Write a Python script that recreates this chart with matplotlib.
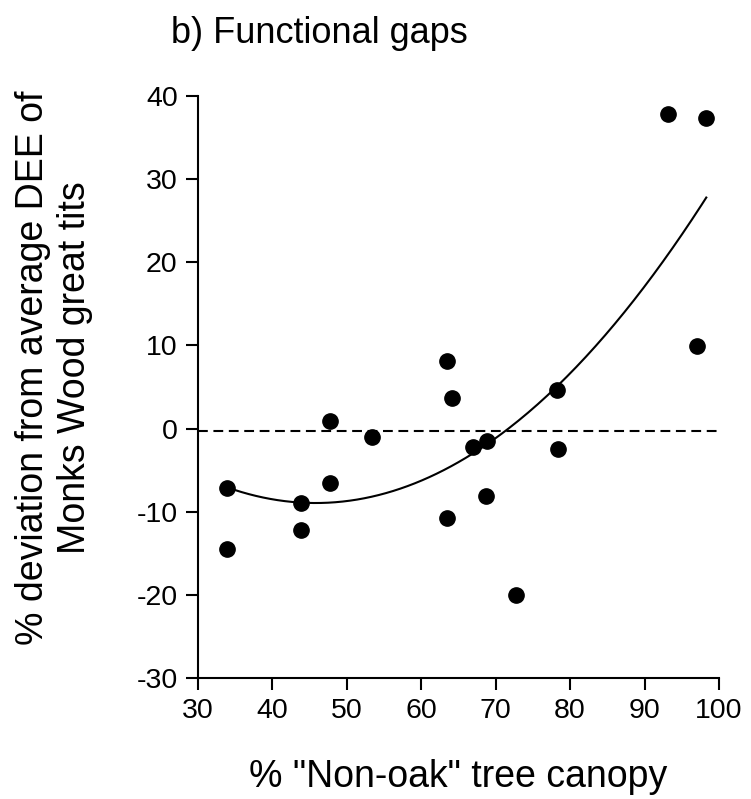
import numpy as np
import matplotlib
matplotlib.use("Agg")
import matplotlib.pyplot as plt

# ── Data ───────────────────────────────────────────────────────────────────
canopy = [33.9, 33.9, 43.8, 43.8, 47.8, 47.8, 53.4, 63.5, 64.1, 63.5,
          67.0, 68.8, 68.7, 72.8, 78.2, 78.4, 93.2, 98.3, 97.0]
deviation = [-7.1, -14.5, -8.9, -12.2, 0.9, -6.5, -1.0, 8.1, 3.7, -10.8,
             -2.2, -1.5, -8.1, -20.0, 4.6, -2.4, 37.8, 37.3, 9.9]

# quadratic fit as drawn (a, b, c) and its x-range
fit_coef = [0.01333, -1.2210, 19.01]
fit_range = [33.9, 98.3]
mean_line = -0.25

x_ticks = [30, 40, 50, 60, 70, 80, 90, 100]
y_ticks = [-30, -20, -10, 0, 10, 20, 30, 40]

# ── Style ──────────────────────────────────────────────────────────────────
plt.rcParams.update({
    "font.family": ["Liberation Sans", "DejaVu Sans"],
    "axes.unicode_minus": False,
    "axes.linewidth": 1.5,
    "xtick.major.width": 1.5,
    "ytick.major.width": 1.5,
    "xtick.major.size": 8.6,
    "ytick.major.size": 8.6,
    "xtick.major.pad": 6,
    "ytick.major.pad": 6,
})

fig = plt.figure(figsize=(7.51, 7.99), dpi=100)
ax = fig.add_axes([0.2636, 0.1514, 0.6937, 0.7284])

ax.plot(canopy, deviation, "o", color="black", markersize=11, zorder=3,
        clip_on=False)

xs = np.linspace(fit_range[0], fit_range[1], 200)
ax.plot(xs, np.polyval(fit_coef, xs), color="black", linewidth=1.5)

ax.plot([x_ticks[0], x_ticks[-1]], [mean_line, mean_line], color="black",
        linewidth=1.5, linestyle=(0, (4.7, 2.7)))

ax.set_xlim(30, 100)
ax.set_ylim(-30, 40)
ax.set_xticks(x_ticks)
ax.set_yticks(y_ticks)
ax.tick_params(labelsize=20.5)
ax.spines["top"].set_visible(False)
ax.spines["right"].set_visible(False)

fig.text(171 / 751, 1 - 43 / 799, "b) Functional gaps", fontsize=26,
         ha="left", va="baseline")
fig.text(458.5 / 751, 1 - 787 / 799, '% "Non-oak" tree canopy', fontsize=27,
         ha="center", va="baseline")
fig.text(54 / 751, 1 - 368 / 799,
         "% deviation from average DEE of\nMonks Wood great tits",
         fontsize=27, rotation=90, ha="center", va="center",
         multialignment="center")

fig.savefig("out.png", dpi=100)
